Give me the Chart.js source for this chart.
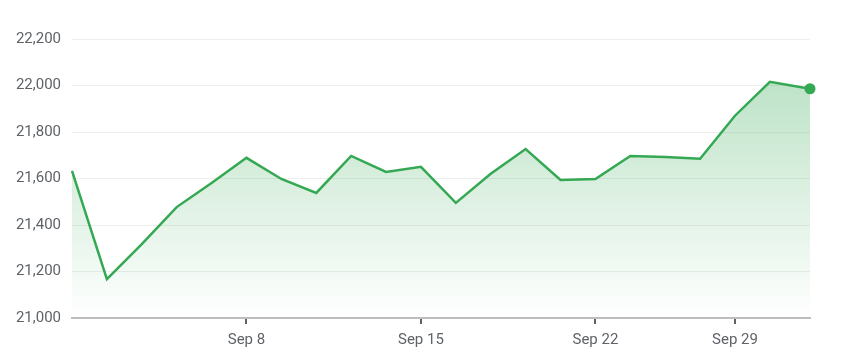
<!DOCTYPE html>
<html><head><meta charset="utf-8">
<script src="https://cdn.jsdelivr.net/npm/chart.js@4"></script>
<style>html,body{margin:0;padding:0;background:#fff}#wrap{width:848px;height:362px}</style>
</head><body><div id="wrap"><canvas id="c"></canvas></div>
<script>
const dayIndex = [0,1,2,3,4,5,6,7,8,9,10,11,12,13,14,15,16,17,18,19,20,21.15];
const values = [21633,21167,21318,21477,21581,21689,21598,21538,21697,21628,21650,21495,21620,21727,21594,21598,21697,21693,21685,21870,22016,21986];
const tickIndex = [5,10,15,19];
const tickLabels = ['Sep 8','Sep 15','Sep 22','Sep 29'];
const yTicks = [21000,21200,21400,21600,21800,22000,22200];

const green = '#34a853';
const pts = dayIndex.map((x,i)=>({x:x,y:values[i]}));
new Chart(document.getElementById('c'), {
  type:'line',
  data:{datasets:[{
    data:pts,
    borderColor:green,
    borderWidth:2.5,
    tension:0,
    fill:'start',
    clip:false,
    backgroundColor:(ctx)=>{
      const ca=ctx.chart.chartArea; if(!ca) return 'rgba(52,168,83,0.2)';
      const g=ctx.chart.ctx.createLinearGradient(0,ca.top,0,ca.bottom);
      g.addColorStop(0,'rgba(52,168,83,0.38)');
      g.addColorStop(1,'rgba(52,168,83,0.0)');
      return g;
    },
    pointRadius:(c)=>c.dataIndex===values.length-1?5.5:0,
    pointBackgroundColor:green,
    pointBorderWidth:0,
    pointHoverRadius:0
  }]},
  options:{
    responsive:true, maintainAspectRatio:false, animation:false,
    layout:{padding:{top:39,right:38,left:0,bottom:0}},
    plugins:{legend:{display:false},tooltip:{enabled:false}},
    scales:{
      x:{type:'linear',min:dayIndex[0],max:dayIndex[dayIndex.length-1],
        afterBuildTicks:(s)=>{s.ticks=tickIndex.map(v=>({value:v}));},
        afterFit:(s)=>{s.height=44;},
        ticks:{callback:(v)=>{const i=tickIndex.indexOf(v);return i>=0?tickLabels[i]:'';},
          color:'#5f6368',font:{family:'Roboto',size:15},padding:7,maxRotation:0,autoSkip:false},
        grid:{drawOnChartArea:false,drawTicks:true,tickLength:6,color:'#5f6368',lineWidth:2},
        border:{color:'#bdbdbd',width:2}
      },
      y:{min:21000,max:22200,
        afterBuildTicks:(s)=>{s.ticks=yTicks.map(v=>({value:v}));},
        afterFit:(s)=>{s.width=72;},
        ticks:{callback:(v)=>v.toLocaleString('en-US'),color:'#5f6368',font:{family:'Roboto',size:15},padding:11},
        grid:{color:'#eeeeee',drawTicks:false,lineWidth:1},
        border:{display:false}
      }
    }
  }
});
</script></body></html>
